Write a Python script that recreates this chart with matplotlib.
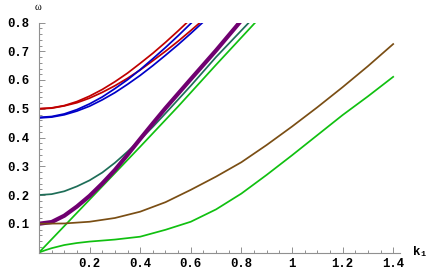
import matplotlib
matplotlib.use("Agg")
import matplotlib.pyplot as plt
from matplotlib.ticker import MultipleLocator, FuncFormatter

# values
k_red1 = [0, 0.05, 0.1, 0.15, 0.2, 0.25, 0.3, 0.35, 0.4, 0.45, 0.5, 0.55, 0.585]
w_red1 = [0.5, 0.503, 0.511, 0.525, 0.544, 0.567, 0.594, 0.624, 0.658, 0.693, 0.731, 0.771, 0.8]
k_red2 = [0, 0.05, 0.1, 0.15, 0.2, 0.25, 0.3, 0.35, 0.4, 0.45, 0.5, 0.55, 0.6, 0.637]
w_red2 = [0.5, 0.502, 0.51, 0.521, 0.537, 0.557, 0.58, 0.606, 0.635, 0.667, 0.7, 0.735, 0.772, 0.8]
k_blue1 = [0, 0.05, 0.1, 0.15, 0.2, 0.25, 0.3, 0.35, 0.4, 0.45, 0.5, 0.55, 0.604]
w_blue1 = [0.47, 0.473, 0.482, 0.497, 0.517, 0.541, 0.57, 0.601, 0.636, 0.674, 0.713, 0.754, 0.8]
k_blue2 = [0, 0.05, 0.1, 0.15, 0.2, 0.25, 0.3, 0.35, 0.4, 0.45, 0.5, 0.55, 0.6, 0.647]
w_blue2 = [0.468, 0.471, 0.479, 0.492, 0.509, 0.531, 0.556, 0.585, 0.616, 0.65, 0.686, 0.723, 0.762, 0.8]

k_purple = [0, 0.05, 0.1, 0.15, 0.2, 0.25, 0.3, 0.35, 0.4, 0.45, 0.5, 0.6, 0.7, 0.79]
w_purple = [0.1, 0.106, 0.128, 0.16, 0.197, 0.24, 0.287, 0.34, 0.395, 0.449, 0.502, 0.603, 0.703, 0.797]

k_teal = [0, 0.05, 0.1, 0.15, 0.2, 0.25, 0.3, 0.35, 0.4, 0.45, 0.5, 0.6, 0.7, 0.83]
w_teal = [0.2, 0.203, 0.213, 0.23, 0.251, 0.278, 0.312, 0.351, 0.393, 0.437, 0.484, 0.58, 0.68, 0.8]

k_line = [0, 0.2, 0.4, 0.55, 0.7, 0.855]
w_line = [0, 0.184, 0.368, 0.508, 0.653, 0.8]

k_low = [0, 0.1, 0.2, 0.3, 0.4, 0.5, 0.6, 0.7, 0.8, 0.9, 1.0, 1.1, 1.2, 1.3, 1.4]
w_brown = [0.1, 0.101, 0.107, 0.12, 0.142, 0.175, 0.218, 0.264, 0.314, 0.374, 0.438, 0.505, 0.575, 0.648, 0.725]

k_green = [0, 0.025, 0.05, 0.1, 0.15, 0.2, 0.3, 0.4, 0.5, 0.6, 0.7, 0.8, 0.9, 1.0, 1.1, 1.2, 1.3, 1.4]
w_green = [0, 0.008, 0.015, 0.026, 0.033, 0.038, 0.045, 0.055, 0.079, 0.107, 0.15, 0.205, 0.27, 0.338, 0.408, 0.478, 0.543, 0.611]

fig = plt.figure(figsize=(4.36, 2.70), dpi=100)
ax = fig.add_axes([39 / 436, 17.5 / 270, 361 / 436, 230 / 270])

red = "#c00000"
blue = "#0000c8"
green = "#10c010"
lw = 1.25

ax.plot(k_red2, w_red2, color=red, lw=lw)
ax.plot(k_blue2, w_blue2, color=blue, lw=lw)
ax.plot(k_red1, w_red1, color=red, lw=lw)
ax.plot(k_blue1, w_blue1, color=blue, lw=lw)
ax.plot(k_line, w_line, color=green, lw=lw)
ax.plot(k_teal, w_teal, color="#1e6e58", lw=lw)
ax.plot(k_purple, w_purple, color="#700070", lw=3.0)
ax.plot(k_low, w_brown, color="#7a4e14", lw=lw)
ax.plot(k_green, w_green, color=green, lw=lw)

ax.set_xlim(0, 1.427)
ax.set_ylim(0, 0.8)

for s in ["top", "right"]:
    ax.spines[s].set_visible(False)
for s in ["left", "bottom"]:
    ax.spines[s].set_color("#909090")
    ax.spines[s].set_linewidth(0.8)

ax.xaxis.set_major_locator(MultipleLocator(0.2))
ax.xaxis.set_minor_locator(MultipleLocator(0.05))
ax.yaxis.set_major_locator(MultipleLocator(0.1))
ax.yaxis.set_minor_locator(MultipleLocator(0.02))


def fmt(v, pos):
    if abs(v) < 1e-9:
        return ""
    s = "%.1f" % v
    if s.endswith(".0"):
        s = s[:-2]
    return s


ax.xaxis.set_major_formatter(FuncFormatter(fmt))
ax.yaxis.set_major_formatter(FuncFormatter(fmt))
ax.tick_params(which="both", direction="in", color="#909090", width=0.7)
ax.tick_params(which="major", length=4)
ax.tick_params(which="minor", length=2)
ax.tick_params(axis="x", pad=4)
ax.tick_params(axis="y", pad=7)
for lab in ax.get_xticklabels() + ax.get_yticklabels():
    lab.set_family("Liberation Mono")
    lab.set_fontweight("bold")
    lab.set_fontsize(8.8)

fig.text(38 / 436, 1 - 7 / 270, "ω", ha="center", va="center", fontsize=7.5,
         family="Liberation Serif")
fig.text(413 / 436, 1 - 252 / 270, "k", ha="left", va="center", fontsize=9,
         family="Liberation Mono", fontweight="bold")
fig.text(420 / 436, 1 - 255 / 270, "1", ha="left", va="center", fontsize=6,
         family="Liberation Mono", fontweight="bold")

fig.savefig("out.png", dpi=100)
